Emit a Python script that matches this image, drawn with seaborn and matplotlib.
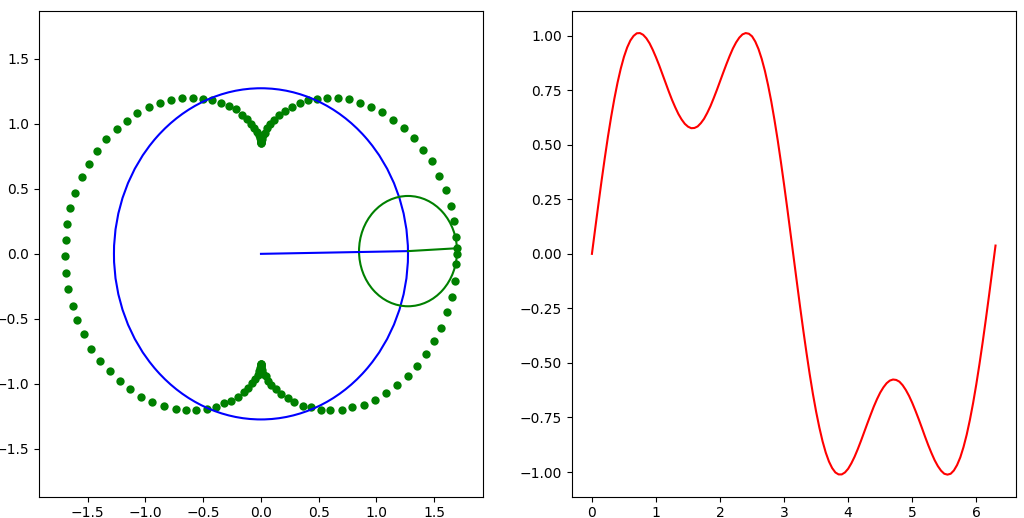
import numpy as np
import matplotlib
matplotlib.use("Agg")
import matplotlib.pyplot as plt
import seaborn as sns
from matplotlib.patches import Circle

# ---- data ----
# traced epicycle points (left panel)
trace_x = [1.698, 1.691, 1.672, 1.641, 1.598, 1.544, 1.480, 1.407, 1.327, 1.239,
           1.147, 1.052, 0.954, 0.856, 0.760, 0.665, 0.574, 0.488, 0.408, 0.334,
           0.268, 0.209, 0.158, 0.116, 0.081, 0.053, 0.032, 0.018, 0.008, 0.003,
           0.001, 0.000, -0.000, -0.001, -0.004, -0.010, -0.020, -0.036, -0.057, -0.086,
           -0.122, -0.166, -0.218, -0.278, -0.346, -0.421, -0.502,
           -0.59, -0.68, -0.78, -0.87, -0.97, -1.07, -1.16, -1.25, -1.34, -1.42,
           -1.49, -1.55, -1.61, -1.65, -1.68, -1.69, -1.70, -1.69, -1.67, -1.63,
           -1.59, -1.53, -1.47, -1.39, -1.31, -1.22, -1.13, -1.04, -0.94, -0.84,
           -0.74, -0.65, -0.56, -0.47, -0.39, -0.32, -0.26, -0.20, -0.15, -0.11,
           -0.08, -0.05, -0.03, -0.02, -0.01, 0.00, 0.00, 0.00, 0.00, 0.00,
           0.00, 0.01, 0.02, 0.04, 0.06, 0.09, 0.13, 0.17, 0.23, 0.29,
           0.36, 0.43, 0.52, 0.60, 0.70, 0.79, 0.89, 0.99, 1.08, 1.18,
           1.27, 1.35, 1.43, 1.50, 1.56, 1.61, 1.65, 1.68, 1.69, 1.697]
trace_y = [0.00, 0.13, 0.25, 0.37, 0.49, 0.60, 0.71, 0.80, 0.89, 0.97,
           1.03, 1.09, 1.13, 1.16, 1.19, 1.20, 1.20, 1.19, 1.18, 1.16,
           1.13, 1.10, 1.07, 1.03, 1.00, 0.97, 0.93, 0.91, 0.88, 0.87,
           0.86, 0.85, 0.85, 0.86, 0.87, 0.89, 0.91, 0.94, 0.97, 1.00,
           1.04, 1.07, 1.11, 1.14, 1.16, 1.18, 1.19, 1.20, 1.20, 1.18,
           1.16, 1.13, 1.08, 1.02, 0.96, 0.88, 0.79, 0.69, 0.59, 0.47,
           0.35, 0.23, 0.11, -0.02, -0.15, -0.27, -0.40, -0.51, -0.62, -0.73,
           -0.82, -0.90, -0.98, -1.04, -1.10, -1.14, -1.17, -1.19, -1.20, -1.20,
           -1.19, -1.18, -1.15, -1.13, -1.10, -1.06, -1.03, -0.99, -0.96, -0.93,
           -0.90, -0.88, -0.86, -0.85, -0.85, -0.85, -0.86, -0.87, -0.89, -0.92,
           -0.94, -0.98, -1.01, -1.04, -1.08, -1.11, -1.14, -1.17, -1.18, -1.20,
           -1.20, -1.20, -1.18, -1.16, -1.12, -1.07, -1.01, -0.94, -0.86, -0.77,
           -0.67, -0.57, -0.45, -0.33, -0.21, -0.08, 0.043]

# epicycle circles: radii and arm joints (origin -> centre of small circle -> pen)
radius_big = 1.273
radius_small = 0.424
arm_x = [0.0, 1.273, 1.697]
arm_y = [0.0, 0.021, 0.043]

# right panel: wave value against angle
wave_y = [0.000, 0.113, 0.225, 0.334, 0.438, 0.537, 0.628, 0.711, 0.785, 0.849,
          0.903, 0.946, 0.978, 0.999, 1.011, 1.012, 1.004, 0.988, 0.965, 0.935,
          0.901, 0.864, 0.824, 0.784, 0.744, 0.706, 0.672, 0.641, 0.616, 0.596,
          0.583, 0.576, 0.577, 0.584, 0.599, 0.619, 0.646, 0.677, 0.713, 0.751,
          0.791, 0.831, 0.870, 0.907, 0.941, 0.969, 0.991, 1.006, 1.012, 1.009,
          0.997, 0.973, 0.939, 0.894, 0.839, 0.773, 0.698, 0.613, 0.521, 0.421,
          0.316, 0.207, 0.094, -0.019, -0.132, -0.244, -0.352, -0.455, -0.553, -0.643,
          -0.724, -0.796, -0.859, -0.911, -0.952, -0.982, -1.002, -1.011, -1.011, -1.002,
          -0.985, -0.960, -0.930, -0.895, -0.857, -0.817, -0.777, -0.738, -0.700, -0.666,
          -0.636, -0.612, -0.593, -0.581, -0.576, -0.578, -0.586, -0.602, -0.624, -0.651,
          -0.683, -0.719, -0.757, -0.797, -0.838, -0.877, -0.913, -0.946, -0.973, -0.994,
          -1.008, -1.012, -1.008, -0.993, -0.968, -0.933, -0.886, -0.829, -0.761, -0.684,
          -0.598, -0.504, -0.404, -0.298, -0.188, -0.075, 0.038]
angle_start, angle_end = 0.0, 6.30
wave_x = np.linspace(angle_start, angle_end, len(wave_y))

# ---- figure ----
fig, (ax1, ax2) = plt.subplots(1, 2, figsize=(10.24, 5.18), dpi=100)
fig.subplots_adjust(left=39/1024, right=1015.7/1024,
                    bottom=1-496.7/518, top=1-11/518, wspace=0.2)

# left panel
sns.scatterplot(x=trace_x, y=trace_y, color="green", s=36, linewidth=0, ax=ax1)
ax1.add_patch(Circle((0, 0), radius_big, fill=False, edgecolor="blue", lw=1.5))
ax1.add_patch(Circle((arm_x[1], arm_y[1]), radius_small, fill=False,
                     edgecolor="green", lw=1.5))
sns.lineplot(x=arm_x[:2], y=arm_y[:2], color="blue", sort=False, ax=ax1)
sns.lineplot(x=arm_x[1:], y=arm_y[1:], color="green", sort=False, ax=ax1)
ax1.set_xlim(-1.922, 1.922)
ax1.set_ylim(-1.867, 1.867)
ax1.set_xticks([-1.5, -1.0, -0.5, 0.0, 0.5, 1.0, 1.5])
ax1.set_yticks([-1.5, -1.0, -0.5, 0.0, 0.5, 1.0, 1.5])

# right panel
sns.lineplot(x=wave_x, y=wave_y, color="red", sort=False, ax=ax2)
ax2.set_xticks([0, 1, 2, 3, 4, 5, 6])
ax2.set_yticks([-1.0, -0.75, -0.5, -0.25, 0.0, 0.25, 0.5, 0.75, 1.0])

fig.savefig("out.png")
